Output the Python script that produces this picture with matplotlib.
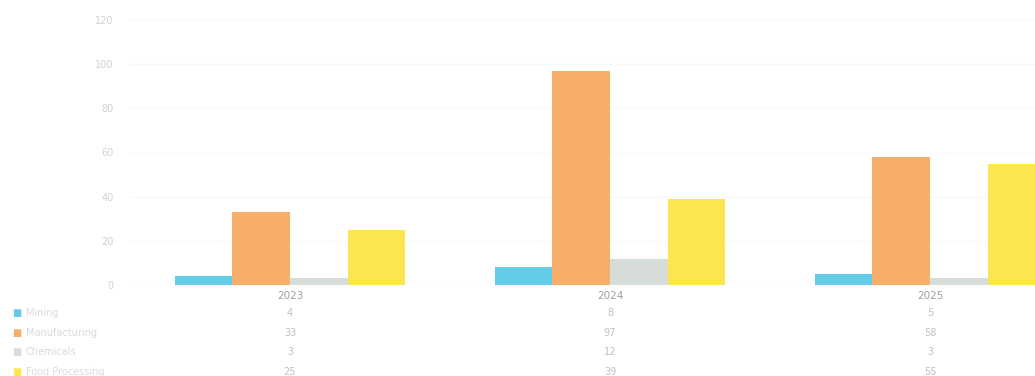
import matplotlib.pyplot as plt
import numpy as np

years = ["2023", "2024", "2025"]
series = ["Mining", "Manufacturing", "Chemicals", "Food Processing"]
mining = [4, 8, 5]
manufacturing = [33, 97, 58]
chemicals = [3, 12, 3]
food = [25, 39, 55]
y_ticks = [0, 20, 40, 60, 80, 100, 120]

colors = ["#62CBE6", "#F6AE6A", "#D6DDD8", "#FBE650"]
values = [mining, manufacturing, chemicals, food]
txt = "#d2d2d2"

W, H = 1035, 376
fig = plt.figure(figsize=(W / 100, H / 100), dpi=100)
# plot area runs past the right edge, as in the (cropped) original
ax = fig.add_axes([130 / W, 91 / H, 960 / W, 265 / H])

x = np.arange(len(years))
bw = 0.18
for i, (vals, c) in enumerate(zip(values, colors)):
    ax.bar(x + (i - 1.5) * bw, vals, width=bw, color=c, zorder=3)

ax.set_xlim(-0.5, 2.5)
ax.set_ylim(0, 120)
ax.set_yticks(y_ticks)
ax.set_yticklabels([str(v) for v in y_ticks], fontsize=7, color=txt)
ax.tick_params(axis="y", length=0, pad=12)
ax.set_xticks([])
ax.grid(axis="y", color="#f8f8f8", linewidth=0.8, zorder=0)
for s in ax.spines.values():
    s.set_visible(False)

# data table under the chart
tr = ax.get_xaxis_transform()
def ax_y(py):
    return (285 - py) / 265

for j, yr in enumerate(years):
    ax.text(x[j], ax_y(296), yr, transform=tr, ha="center", va="center",
            fontsize=7.5, color="#a0a0a0", clip_on=False)

row_y = [313, 333, 352, 372]
for i, (name, vals, c) in enumerate(zip(series, values, colors)):
    fy = 1 - row_y[i] / H
    fig.text(12 / W, fy, "\u25a0", color=c, fontsize=7, va="center", ha="left")
    fig.text(26 / W, fy, name, color="#dadada", fontsize=7, va="center", ha="left")
    for j in range(len(years)):
        ax.text(x[j], ax_y(row_y[i]), str(vals[j]), transform=tr, ha="center",
                va="center", fontsize=7, color="#c0c0c0", clip_on=False)

fig.savefig("out.png", dpi=100)
